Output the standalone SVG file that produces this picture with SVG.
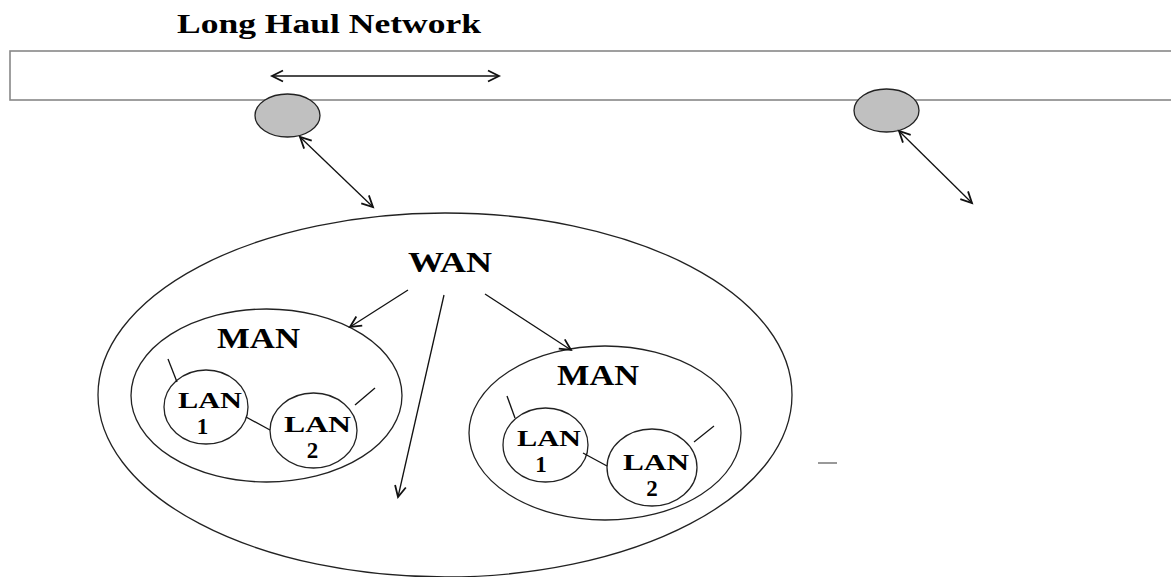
<svg xmlns="http://www.w3.org/2000/svg" width="1171" height="577" viewBox="0 0 1171 577">
  <style>
    .lbl { font-family: "Liberation Serif", "Times New Roman", serif; font-weight: bold; fill: #000; }
    .big { font-size: 29px; }
    .lan { font-size: 23px; }
    .ring { fill: none; stroke: #222; stroke-width: 1.3; }
    .hub { fill: #c0c0c0; stroke: #222; stroke-width: 1.3; }
    .link { stroke: #111; stroke-width: 1.3; fill: none; }
    .arr { stroke: #111; stroke-width: 1.3; fill: none; marker-end: url(#head); }
    .arr2 { stroke: #111; stroke-width: 1.3; fill: none; marker-start: url(#head); marker-end: url(#head); }
  </style>
  <defs>
    <marker id="head" markerUnits="userSpaceOnUse" markerWidth="14" markerHeight="14" refX="12" refY="6" orient="auto-start-reverse" overflow="visible">
      <path d="M1,0.5 L12,6 L1,11.5" fill="none" stroke="#111" stroke-width="1.8" stroke-linejoin="miter"/>
    </marker>
  </defs>

  <rect width="1171" height="577" fill="#fff"/>

  <!-- backbone -->
  <g id="long-haul">
    <text class="lbl" x="177" y="33" font-size="28" textLength="304" lengthAdjust="spacingAndGlyphs">Long Haul Network</text>
    <rect x="10" y="51" width="1180" height="49" fill="#fff" stroke="#888" stroke-width="1.6"/>
  </g>

  <g id="hub-left">
    <ellipse class="hub" cx="287.5" cy="115.5" rx="32.5" ry="21.5"/>
  </g>
  <g id="hub-right">
    <ellipse class="hub" cx="886.5" cy="110.5" rx="32.5" ry="21.5"/>
  </g>

  <!-- regional network -->
  <g id="wan">
    <ellipse class="ring" cx="445" cy="395" rx="347" ry="182"/>
    <text class="lbl big" x="408" y="272" textLength="84" lengthAdjust="spacingAndGlyphs">WAN</text>
  </g>

  <g id="man-left">
    <ellipse class="ring" cx="266.5" cy="395.5" rx="135.5" ry="86.5"/>
    <text class="lbl big" x="217" y="348" textLength="83" lengthAdjust="spacingAndGlyphs">MAN</text>
  </g>
  <g id="lan1-left">
    <ellipse class="ring" cx="206" cy="407" rx="42" ry="37"/>
    <text class="lbl lan" x="178" y="408" textLength="64" lengthAdjust="spacingAndGlyphs">LAN</text>
    <text class="lbl lan" x="202.5" y="434" text-anchor="middle">1</text>
  </g>
  <g id="lan2-left">
    <ellipse class="ring" cx="313.5" cy="430.5" rx="43.5" ry="37.5"/>
    <text class="lbl lan" x="284" y="432" textLength="67" lengthAdjust="spacingAndGlyphs">LAN</text>
    <text class="lbl lan" x="312.5" y="458" text-anchor="middle">2</text>
  </g>

  <g id="man-right">
    <ellipse class="ring" cx="605" cy="433" rx="136" ry="87"/>
    <text class="lbl big" x="557" y="385" textLength="82" lengthAdjust="spacingAndGlyphs">MAN</text>
  </g>
  <g id="lan1-right">
    <ellipse class="ring" cx="545.5" cy="445" rx="42.5" ry="37"/>
    <text class="lbl lan" x="517" y="446" textLength="64" lengthAdjust="spacingAndGlyphs">LAN</text>
    <text class="lbl lan" x="541" y="472" text-anchor="middle">1</text>
  </g>
  <g id="lan2-right">
    <ellipse class="ring" cx="652" cy="467.5" rx="45" ry="38.5"/>
    <text class="lbl lan" x="623" y="470" textLength="66" lengthAdjust="spacingAndGlyphs">LAN</text>
    <text class="lbl lan" x="652" y="496" text-anchor="middle">2</text>
  </g>

  <!-- connectors -->
  <g id="connectors">
    <line class="arr2" x1="272" y1="76" x2="499" y2="76"/>
    <line class="arr2" x1="300" y1="137" x2="373" y2="207"/>
    <line class="arr2" x1="899" y1="131" x2="972" y2="203"/>
    <line class="arr" x1="408" y1="290" x2="350" y2="327"/>
    <line class="arr" x1="444" y1="295" x2="398" y2="497"/>
    <line class="arr" x1="485" y1="294" x2="571" y2="350"/>
    <line class="link" x1="246" y1="417" x2="270" y2="430"/>
    <line class="link" x1="583" y1="453" x2="607" y2="466"/>
    <line class="link" x1="168" y1="359" x2="177" y2="382"/>
    <line class="link" x1="355" y1="405" x2="375" y2="388"/>
    <line class="link" x1="507" y1="396" x2="515" y2="418"/>
    <line class="link" x1="694" y1="442" x2="714" y2="426"/>
    <line x1="818" y1="463" x2="837" y2="463" stroke="#777" stroke-width="1.5"/>
  </g>
</svg>
